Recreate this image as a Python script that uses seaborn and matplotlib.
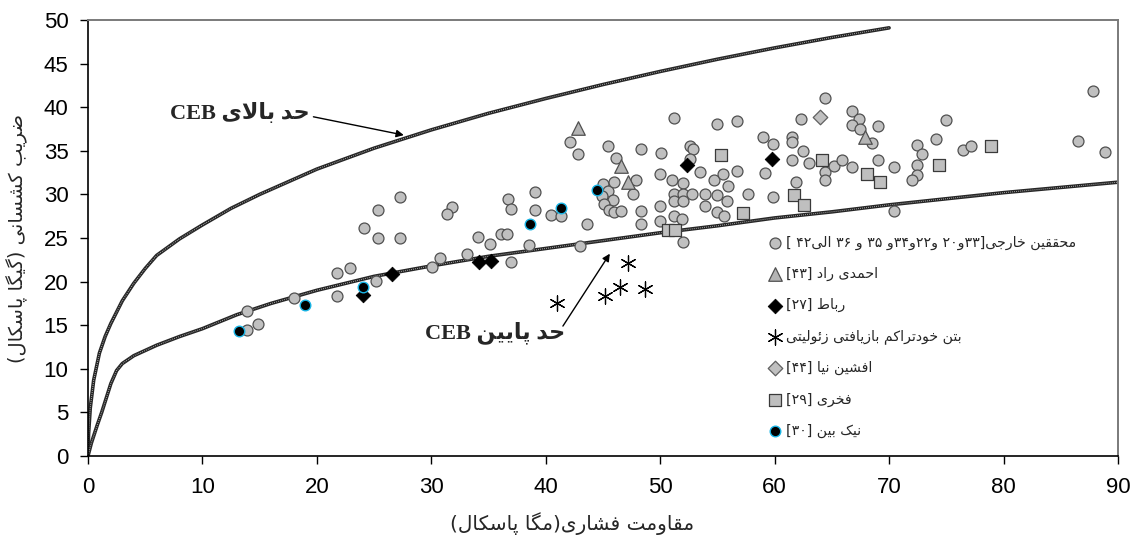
import numpy as np
import pandas as pd
import matplotlib
matplotlib.use("Agg")
import matplotlib.pyplot as plt
import seaborn as sns

# ---------------------------------------------------------------- data
# compressive strength (MPa) / modulus of elasticity (GPa)
foreign_x = [13.9, 13.9, 14.9, 18.0, 21.8, 22.9, 21.8, 24.1, 25.3, 25.3, 25.2, 27.3, 27.3,
             31.8, 31.4, 34.1, 35.1, 36.1, 36.6, 30.1, 30.8, 33.1, 36.7, 37.0, 39.1, 39.1,
             40.5, 41.3, 38.5, 37.0, 42.1, 42.8, 45.4, 46.1, 48.3, 50.1, 51.2, 43.6, 43.0,
             45.0, 45.4, 44.9, 45.9, 45.1, 45.5, 46.0, 46.6, 46.0, 47.6, 47.9, 48.3, 48.3,
             52.6, 52.9, 52.6, 50.0, 51.0, 52.0, 53.5, 55.0, 56.7, 54.7, 55.5, 56.7, 55.9,
             51.2, 52.0, 52.8, 51.2, 52.0, 53.9, 55.0, 55.8, 53.9, 55.0, 55.6, 50.0, 50.0,
             51.2, 51.9, 52.0, 57.7, 59.0, 59.9, 61.5, 61.5, 61.5, 59.2, 59.9, 62.3, 61.9,
             64.4, 62.5, 63.0, 64.4, 64.4, 65.2, 65.9, 66.8, 67.4, 66.8, 67.5, 68.5, 69.0,
             69.0, 66.8, 70.4, 70.4, 72.4, 72.9, 72.4, 72.4, 72.0, 74.1, 75.0, 76.5, 77.2,
             86.5, 87.8, 88.9]
foreign_y = [16.6, 14.4, 15.1, 18.1, 21.0, 21.6, 18.4, 26.1, 28.2, 25.0, 20.1, 29.7, 25.0,
             28.6, 27.7, 25.1, 24.3, 25.5, 25.5, 21.7, 22.7, 23.2, 29.5, 28.3, 30.3, 28.2,
             27.6, 27.5, 24.2, 22.2, 36.0, 34.6, 35.6, 34.2, 35.2, 34.8, 38.8, 26.6, 24.1,
             31.2, 30.4, 29.8, 29.4, 28.9, 28.2, 28.0, 28.1, 31.4, 30.1, 31.6, 28.1, 26.6,
             35.5, 35.2, 34.1, 32.3, 31.6, 31.3, 32.6, 38.1, 38.4, 31.7, 32.3, 32.7, 31.0,
             30.0, 30.0, 30.1, 29.2, 29.3, 30.0, 29.9, 29.3, 28.7, 28.0, 27.5, 28.7, 26.9,
             27.5, 27.2, 24.5, 30.0, 36.6, 35.8, 36.6, 36.0, 34.0, 32.4, 29.7, 38.6, 31.4,
             41.1, 35.0, 33.6, 32.6, 31.6, 33.3, 34.0, 39.6, 38.7, 38.0, 37.5, 35.9, 37.9,
             34.0, 33.1, 33.1, 28.1, 35.7, 34.6, 33.4, 32.2, 31.6, 36.3, 38.5, 35.1, 35.6,
             36.1, 41.9, 34.9]

ahmadi_x = [42.8, 46.6, 47.2, 67.9]
ahmadi_y = [37.6, 33.3, 31.4, 36.6]

rabat_x = [24.0, 26.6, 34.2, 35.2, 52.3, 59.8]
rabat_y = [18.5, 20.9, 22.3, 22.4, 33.4, 34.1]

zeolite_x = [41.0, 47.2, 46.5, 45.2, 48.7]
zeolite_y = [17.5, 22.1, 19.4, 18.4, 19.1]

afshin_x = [64.0]
afshin_y = [38.9]

fakhri_x = [50.7, 51.3, 55.3, 57.2, 61.7, 62.6, 64.1, 68.1, 69.2, 74.4, 78.9]
fakhri_y = [25.9, 25.9, 34.5, 27.9, 29.9, 28.8, 33.9, 32.3, 31.4, 33.4, 35.6]

nikbin_x = [13.2, 19.0, 24.0, 38.6, 41.3, 44.5]
nikbin_y = [14.3, 17.3, 19.4, 26.6, 28.4, 30.5]

# CEB upper and lower bound curves
upper_x = [0, 0.05, 0.2, 0.5, 1, 1.5, 2, 3, 4, 5, 6, 8, 10, 12.5, 15, 20, 25, 30,
           35, 40, 45, 50, 55, 60, 65, 70]
upper_y = [0, 2.5, 5.5, 8.7, 11.8, 13.7, 15.2, 17.8, 19.8, 21.5, 23.0, 24.9, 26.5,
           28.4, 30.0, 32.9, 35.3, 37.4, 39.3, 41.0, 42.6, 44.1, 45.5, 46.8, 48.0, 49.1]
lower_x = [0, 0.3, 0.8, 1.2, 2.0, 2.5, 3.0, 4, 5, 6, 8, 10, 13, 16, 20, 25, 30, 35,
           40, 45, 50, 55, 60, 65, 70, 75, 80, 85, 90]
lower_y = [0, 1.5, 3.5, 5.0, 8.3, 9.8, 10.6, 11.5, 12.1, 12.7, 13.7, 14.6, 16.2, 17.5,
           19.0, 20.6, 21.8, 22.9, 23.8, 24.7, 25.6, 26.4, 27.3, 28.0, 28.8, 29.5, 30.2,
           30.8, 31.4]

x_ticks = [0, 10, 20, 30, 40, 50, 60, 70, 80, 90]
y_ticks = [0, 5, 10, 15, 20, 25, 30, 35, 40, 45, 50]

x_title = "مقاومت فشاری(مگا پاسکال)"
y_title = "ضریب کشسانی (گیگا پاسکال)"
upper_label = "حد بالای CEB"
lower_label = "حد پایین CEB"
series_names = [
    "محققین خارجی[۳۳و۲۰ و۲۲و۳۴و ۳۵ و ۳۶ الی۴۲ ]",
    "احمدی راد [۴۳]",
    "رباط [۲۷]",
    "بتن خودتراکم بازیافتی زئولیتی",
    "افشین نیا [۴۴]",
    "فخری [۲۹]",
    "نیک بین [۳۰]",
]

# ------------------------------------------------- Persian text shaping
# (isolated, final, initial, medial) presentation forms
FORMS = {
    'ا': ('\uFE8D', '\uFE8E', None, None),
    'ب': ('\uFE8F', '\uFE90', '\uFE91', '\uFE92'),
    'پ': ('\uFB56', '\uFB57', '\uFB58', '\uFB59'),
    'ت': ('\uFE95', '\uFE96', '\uFE97', '\uFE98'),
    'ج': ('\uFE9D', '\uFE9E', '\uFE9F', '\uFEA0'),
    'ح': ('\uFEA1', '\uFEA2', '\uFEA3', '\uFEA4'),
    'خ': ('\uFEA5', '\uFEA6', '\uFEA7', '\uFEA8'),
    'د': ('\uFEA9', '\uFEAA', None, None),
    'ر': ('\uFEAD', '\uFEAE', None, None),
    'ز': ('\uFEAF', '\uFEB0', None, None),
    'ژ': ('\uFB8A', '\uFB8B', None, None),
    'س': ('\uFEB1', '\uFEB2', '\uFEB3', '\uFEB4'),
    'ش': ('\uFEB5', '\uFEB6', '\uFEB7', '\uFEB8'),
    'ض': ('\uFEBD', '\uFEBE', '\uFEBF', '\uFEC0'),
    'ط': ('\uFEC1', '\uFEC2', '\uFEC3', '\uFEC4'),
    'ف': ('\uFED1', '\uFED2', '\uFED3', '\uFED4'),
    'ق': ('\uFED5', '\uFED6', '\uFED7', '\uFED8'),
    'ک': ('\uFB8E', '\uFB8F', '\uFB90', '\uFB91'),
    'گ': ('\uFB92', '\uFB93', '\uFB94', '\uFB95'),
    'ل': ('\uFEDD', '\uFEDE', '\uFEDF', '\uFEE0'),
    'م': ('\uFEE1', '\uFEE2', '\uFEE3', '\uFEE4'),
    'ن': ('\uFEE5', '\uFEE6', '\uFEE7', '\uFEE8'),
    'و': ('\uFEED', '\uFEEE', None, None),
    'ه': ('\uFEE9', '\uFEEA', '\uFEEB', '\uFEEC'),
    'ی': ('\uFBFC', '\uFBFD', '\uFBFE', '\uFBFF'),
    'ئ': ('\uFE89', '\uFE8A', '\uFE8B', '\uFE8C'),
}
LTR_CHARS = set("0123456789ABCDEFGHIJKLMNOPQRSTUVWXYZabcdefghijklmnopqrstuvwxyz"
                "۰۱۲۳۴۵۶۷۸۹")
MIRROR = {'(': ')', ')': '(', '[': ']', ']': '['}


def _joins_next(c):
    return c in FORMS and FORMS[c][2] is not None


def _shape(s):
    out, i, n = [], 0, len(s)
    while i < n:
        c = s[i]
        if c not in FORMS:
            out.append(c)
            i += 1
            continue
        link_prev = i > 0 and _joins_next(s[i - 1])
        if c == 'ل' and i + 1 < n and s[i + 1] == 'ا':
            out.append('\uFEFC' if link_prev else '\uFEFB')
            i += 2
            continue
        link_next = _joins_next(c) and i + 1 < n and s[i + 1] in FORMS
        iso, fin, ini, med = FORMS[c]
        if link_prev and link_next:
            out.append(med)
        elif link_prev:
            out.append(fin)
        elif link_next:
            out.append(ini)
        else:
            out.append(iso)
        i += 1
    return ''.join(out)


def fa(s):
    """Shape Persian text and put it in left-to-right display order."""
    rev = _shape(s)[::-1]
    out, run = [], []
    for ch in rev:
        if ch in LTR_CHARS:
            run.append(ch)
        else:
            if run:
                out.extend(run[::-1])
                run = []
            out.append(MIRROR.get(ch, ch))
    if run:
        out.extend(run[::-1])
    return ''.join(out)


# ---------------------------------------------------------------- style
sns.set_style("ticks")
plt.rcParams['font.family'] = ['Liberation Sans', 'DejaVu Sans']
plt.rcParams['axes.unicode_minus'] = False

fig = plt.figure(figsize=(11.35, 5.45), dpi=100)
ax = fig.add_axes([0.0775, 0.1633, 0.9075, 0.80])

# bound curves: dark line with a light chain texture
for cx, cy in ((upper_x, upper_y), (lower_x, lower_y)):
    sns.lineplot(x=cx, y=cy, ax=ax, color='#262626', lw=2.6, sort=False,
                 estimator=None, zorder=2)
    sns.lineplot(x=cx, y=cy, ax=ax, color='#d8d8d8', lw=0.7, sort=False,
                 estimator=None, zorder=2.1, dashes=False,
                 linestyle=(0, (0.7, 1.4)))

frames = []
groups = [
    (foreign_x, foreign_y),
    (ahmadi_x, ahmadi_y),
    (rabat_x, rabat_y),
    (zeolite_x, zeolite_y),
    (afshin_x, afshin_y),
    (fakhri_x, fakhri_y),
    (nikbin_x, nikbin_y),
]
for name, (gx, gy) in zip(series_names, groups):
    frames.append(pd.DataFrame({'x': gx, 'y': gy, 'series': name}))
df = pd.concat(frames, ignore_index=True)

styles = [
    dict(marker='o', s=62, color='#c0c0c0', edgecolor='#505050', linewidth=0.9),
    dict(marker='^', s=95, color='#b4b4b4', edgecolor='#505050', linewidth=0.9),
    dict(marker='D', s=55, color='black', edgecolor='black', linewidth=0.6),
    dict(marker=(6, 2, 0), s=120, color='black', linewidth=0.9),
    dict(marker='D', s=55, color='#c0c0c0', edgecolor='#606060', linewidth=0.9),
    dict(marker='s', s=85, color='#bfbfbf', edgecolor='#3a3a3a', linewidth=0.9),
    dict(marker='o', s=58, color='black', edgecolor='#19b5e6', linewidth=1.0),
]
for name, st in zip(series_names, styles):
    sub = df[df['series'] == name]
    sns.scatterplot(data=sub, x='x', y='y', ax=ax, label=fa(name), zorder=3, **st)

# annotations for the bound curves
ax.annotate('', xy=(27.6, 36.8), xytext=(19.7, 38.9),
            arrowprops=dict(arrowstyle='-|>', color='black', lw=1.0,
                            mutation_scale=11, shrinkA=0, shrinkB=0), zorder=4)
ax.text(13.3, 39.3, fa(upper_label), ha='center', va='center', fontsize=16,
        fontweight='bold', family=['Liberation Serif', 'DejaVu Sans'], zorder=4)

ax.annotate('', xy=(45.6, 23.2), xytext=(41.5, 14.9),
            arrowprops=dict(arrowstyle='-|>', color='black', lw=1.0,
                            mutation_scale=11, shrinkA=0, shrinkB=0), zorder=4)
ax.text(35.6, 14.1, fa(lower_label), ha='center', va='center', fontsize=16,
        fontweight='bold', family=['Liberation Serif', 'DejaVu Sans'], zorder=4)

# axes
ax.set_xlim(0, 90)
ax.set_ylim(0, 50)
ax.set_xticks(x_ticks)
ax.set_yticks(y_ticks)
ax.tick_params(axis='both', direction='out', length=6, width=1.0,
               labelsize=16, colors='black')
ax.tick_params(axis='x', pad=9)
ax.tick_params(axis='y', pad=8)
for side in ('left', 'bottom'):
    ax.spines[side].set_color('black')
    ax.spines[side].set_linewidth(1.2)
for side in ('top', 'right'):
    ax.spines[side].set_color('#7a7a7a')
    ax.spines[side].set_linewidth(1.4)

ax.set_xlabel(fa(x_title), fontsize=14.5, family=['DejaVu Sans'])
ax.set_ylabel(fa(y_title), fontsize=14, family=['DejaVu Sans'])
ax.xaxis.set_label_coords(0.47, -0.128)
ax.yaxis.set_label_coords(-0.058, 0.5)

leg = ax.legend(loc='upper left', bbox_to_anchor=(0.66, 0.505), frameon=False,
                handletextpad=0.3, labelspacing=1.2,
                borderaxespad=0, handlelength=1.0, borderpad=0,
                prop={'family': ['DejaVu Sans'], 'size': 10.2})

fig.savefig('out.png', dpi=100, facecolor='white')
